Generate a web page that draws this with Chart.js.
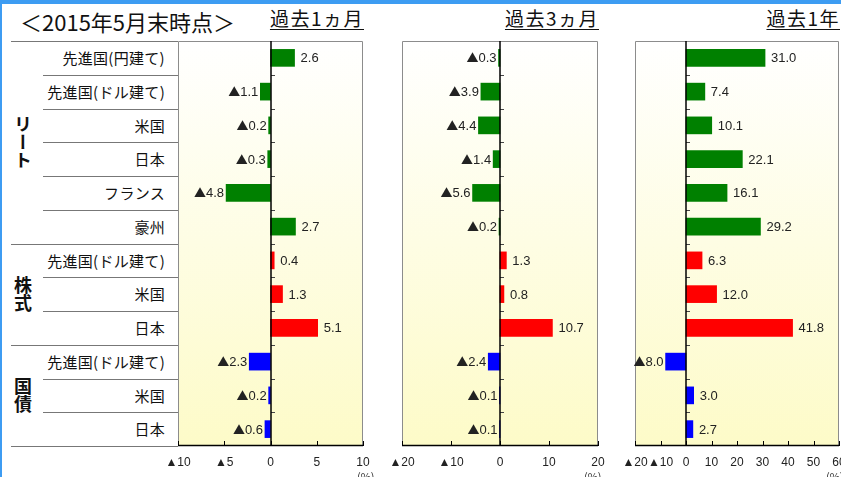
<!DOCTYPE html>
<html>
<head>
<meta charset="utf-8">
<script src="https://cdn.jsdelivr.net/npm/chart.js@4.4.0/dist/chart.umd.min.js"></script>
<style>
  body { margin: 0; width: 841px; height: 477px; overflow: hidden; position: relative; background: #fff;
         font-family: "Noto Sans CJK JP", sans-serif; color: #111; }
  .abs { position: absolute; }
  canvas { position: absolute; }
  .rowlabel { position: absolute; text-align: right; font-size: 15px; letter-spacing: 0.3px; white-space: nowrap; color: #111; }
  .hline { position: absolute; height: 1px; background: #777; }
  .group { position: absolute; writing-mode: vertical-rl; font-size: 18px; font-weight: bold; line-height: 1; }
  .sub { position: absolute; font-size: 19px; letter-spacing: 1.5px; text-decoration: underline; text-underline-offset: 3px; white-space: nowrap; }
  .unit { position: absolute; font-size: 11px; top: 468px; color: #333; }
</style>
</head>
<body>
<div class="abs" style="left:0;top:0;width:841px;height:4px;background:#3d9cf2"></div>
<div class="abs" style="left:0;top:0;width:2px;height:477px;background:#3d9cf2"></div>
<div class="abs" style="left:20px;top:5px;font-size:22px;white-space:nowrap">＜2015年5月末時点＞</div>
<div class="sub" style="right:477px;top:4px">過去1ヵ月</div>
<div class="sub" style="right:242px;top:4px">過去3ヵ月</div>
<div class="sub" style="right:1px;top:4px">過去1年</div>
<div id="labels"></div>
<canvas id="chart1" width="245" height="439" style="left:148px;top:39px"></canvas>
<canvas id="chart2" width="256" height="439" style="left:372px;top:39px"></canvas>
<canvas id="chart3" width="264" height="439" style="left:605px;top:39px"></canvas>
<div class="unit" style="left:357px">(%)</div>
<div class="unit" style="left:584px">(%)</div>
<div class="unit" style="left:826px">(%)</div>
<script>
// data
const categories = ['先進国(円建て)', '先進国(ドル建て)', '米国', '日本', 'フランス', '豪州',
                    '先進国(ドル建て)', '米国', '日本',
                    '先進国(ドル建て)', '米国', '日本'];
const groupNames = ['リート', '株式', '国債'];
const groupSizes = [6, 3, 3];
const groupColors = ['#008000', '#ff0000', '#0000ff'];
const past1m = [2.6, -1.1, -0.2, -0.3, -4.8, 2.7, 0.4, 1.3, 5.1, -2.3, -0.2, -0.6];
const past3m = [-0.3, -3.9, -4.4, -1.4, -5.6, -0.2, 1.3, 0.8, 10.7, -2.4, -0.1, -0.1];
const past1y = [31.0, 7.4, 10.1, 22.1, 16.1, 29.2, 6.3, 12.0, 41.8, -8.0, 3.0, 2.7];

const plotTop = 41, plotBottom = 446;
const rowH = (plotBottom - plotTop) / categories.length;
const numFont = '"Liberation Sans", Arial, sans-serif';

// bar colours by group
let barColors = [];
groupSizes.forEach((n, g) => { for (let i = 0; i < n; i++) barColors.push(groupColors[g]); });

// left label table
const labelsDiv = document.getElementById('labels');
let groupStart = 0;
groupSizes.forEach((n, g) => {
    let top = plotTop + groupStart * rowH;
    let line = document.createElement('div');
    line.className = 'hline';
    line.style.cssText = 'left:11px;width:167px;top:' + Math.round(top) + 'px';
    labelsDiv.appendChild(line);
    let gl = document.createElement('div');
    gl.className = 'group';
    gl.textContent = groupNames[g];
    gl.style.left = '14px';
    gl.style.top = (top + n * rowH / 2) + 'px';
    gl.style.transform = 'translateY(-50%)';
    labelsDiv.appendChild(gl);
    for (let i = 1; i < n; i++) {
        let l = document.createElement('div');
        l.className = 'hline';
        l.style.cssText = 'left:43px;width:135px;top:' + Math.round(top + i * rowH) + 'px';
        labelsDiv.appendChild(l);
    }
    groupStart += n;
});
let lastLine = document.createElement('div');
lastLine.className = 'hline';
lastLine.style.cssText = 'left:11px;width:167px;top:' + plotBottom + 'px';
labelsDiv.appendChild(lastLine);
categories.forEach((c, i) => {
    let d = document.createElement('div');
    d.className = 'rowlabel';
    d.textContent = c;
    d.style.cssText = 'right:' + (841 - 165) + 'px;top:' + (plotTop + i * rowH) + 'px;height:' + rowH + 'px;line-height:' + rowH + 'px';
    labelsDiv.appendChild(d);
});

const panelPlugin = {
    id: 'panelPlugin',
    beforeDraw(chart) {
        const a = chart.chartArea;
        const ctx = chart.ctx;
        let grad = ctx.createLinearGradient(0, a.top, 0, a.bottom);
        grad.addColorStop(0, '#ffffff');
        grad.addColorStop(1, '#fdfbc8');
        ctx.save();
        ctx.fillStyle = grad;
        ctx.fillRect(a.left, a.top, a.right - a.left, a.bottom - a.top);
        ctx.restore();
    },
    afterDatasetsDraw(chart) {
        const a = chart.chartArea;
        const ctx = chart.ctx;
        const xs = chart.scales.x, ys = chart.scales.y;
        ctx.save();
        // border
        ctx.strokeStyle = '#8c8c8c';
        ctx.lineWidth = 1;
        ctx.beginPath();
        ctx.moveTo(a.left + 0.5, a.bottom);
        ctx.lineTo(a.left + 0.5, a.top + 0.5);
        ctx.lineTo(a.right - 0.5, a.top + 0.5);
        ctx.lineTo(a.right - 0.5, a.bottom);
        ctx.stroke();
        ctx.strokeStyle = '#000';
        ctx.lineWidth = 1.5;
        ctx.beginPath();
        ctx.moveTo(a.left, a.bottom - 0.5);
        ctx.lineTo(a.right, a.bottom - 0.5);
        ctx.stroke();
        // x tick marks pointing up
        ctx.lineWidth = 1;
        xs.ticks.forEach(t => {
            let x = Math.round(xs.getPixelForValue(t.value)) + 0.5;
            ctx.beginPath();
            ctx.moveTo(x, a.bottom);
            ctx.lineTo(x, a.bottom - 5);
            ctx.stroke();
        });
        // row ticks on the zero line
        let x0 = Math.round(xs.getPixelForValue(0));
        ctx.strokeStyle = '#444';
        for (let i = 1; i < categories.length; i++) {
            let y = Math.round((ys.getPixelForValue(i - 1) + ys.getPixelForValue(i)) / 2) + 0.5;
            ctx.beginPath();
            ctx.moveTo(x0, y);
            ctx.lineTo(x0 + 4, y);
            ctx.stroke();
        }
        // zero line
        ctx.strokeStyle = '#000';
        ctx.lineWidth = 1.5;
        ctx.beginPath();
        ctx.moveTo(x0, a.top);
        ctx.lineTo(x0, a.bottom);
        ctx.stroke();
        // value labels
        ctx.fillStyle = '#222';
        ctx.textBaseline = 'middle';
        const meta = chart.getDatasetMeta(0);
        const values = chart.data.datasets[0].data;
        meta.data.forEach((bar, i) => {
            let v = values[i];
            let txt = Math.abs(v).toFixed(1);
            ctx.font = '13px ' + numFont;
            if (v >= 0) {
                ctx.textAlign = 'left';
                ctx.fillText(txt, bar.x + 6, bar.y + 1);
            } else {
                ctx.textAlign = 'right';
                let right = bar.x - 2;
                ctx.fillText(txt, right, bar.y + 1);
                let w = ctx.measureText(txt).width;
                ctx.font = '12px "Noto Sans CJK JP", sans-serif';
                ctx.fillText('▲', right - w, bar.y + 1);
            }
        });
        ctx.restore();
    }
};

function makePanel(id, values, min, max, step) {
    let ctx = document.getElementById(id).getContext('2d');
    return new Chart(ctx, {
        type: 'bar',
        data: {
            labels: categories,
            datasets: [{
                data: values,
                backgroundColor: barColors,
                barThickness: 17
            }]
        },
        options: {
            indexAxis: 'y',
            responsive: false,
            animation: false,
            layout: { padding: { left: 30, right: 30, top: 2, bottom: 0 } },
            plugins: { legend: { display: false }, tooltip: { enabled: false } },
            scales: {
                x: {
                    min: min,
                    max: max,
                    afterFit: function (scale) { scale.height = 32; },
                    border: { display: false },
                    grid: { display: false, drawTicks: false },
                    ticks: {
                        stepSize: step,
                        padding: 9,
                        autoSkip: false,
                        color: '#222',
                        font: { family: numFont, size: 12 },
                        maxRotation: 0,
                        callback: v => v < 0 ? '▲' + Math.abs(v) : String(v)
                    }
                },
                y: { display: false }
            }
        },
        plugins: [panelPlugin]
    });
}

makePanel('chart1', past1m, -10, 10, 5);
makePanel('chart2', past3m, -20, 20, 10);
makePanel('chart3', past1y, -20, 60, 10);
</script>
</body>
</html>
